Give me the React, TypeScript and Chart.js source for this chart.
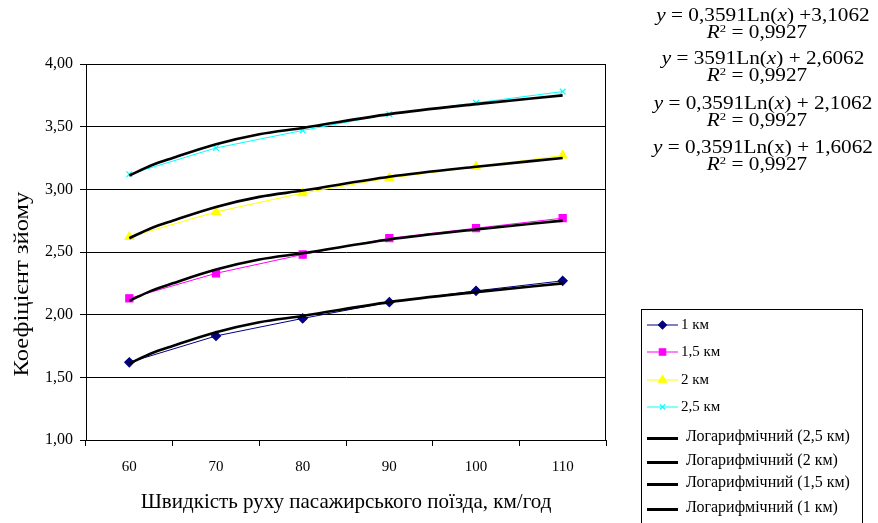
import React, { useEffect, useRef } from 'react';
import { Chart, registerables } from 'chart.js';
import { drawPoint } from 'chart.js/helpers';

Chart.register(...registerables);

// ---- data ----
const speeds = ['60', '70', '80', '90', '100', '110'];
const km1 = [1.62, 1.83, 1.97, 2.1, 2.19, 2.27];
const km15 = [2.13, 2.33, 2.48, 2.61, 2.69, 2.77];
const km2 = [2.62, 2.82, 2.97, 3.09, 3.18, 3.27];
const km25 = [3.12, 3.33, 3.47, 3.6, 3.69, 3.78];

// trend-line readings (speed, value) taken along each black curve
const trendSpeeds = [60, 62.5, 65, 70, 75, 80, 90, 100, 110];
const trend1 = [1.61, 1.69, 1.75, 1.86, 1.94, 1.99, 2.1, 2.18, 2.25];
const trend15 = [2.11, 2.19, 2.25, 2.36, 2.44, 2.49, 2.6, 2.68, 2.75];
const trend2 = [2.61, 2.69, 2.75, 2.86, 2.94, 2.99, 3.1, 3.18, 3.25];
const trend25 = [3.11, 3.19, 3.25, 3.36, 3.44, 3.49, 3.6, 3.68, 3.75];

const seriesLabels = ['1 км', '1,5 км', '2 км', '2,5 км'];
const trendLabels = ['Логарифмічний (2,5 км)', 'Логарифмічний (2 км)', 'Логарифмічний (1,5 км)', 'Логарифмічний (1 км)'];

const yMin = 1;
const yMax = 4;
const yStep = 0.5;

const xTitle = 'Швидкість руху пасажирського поїзда, км/год';
const yTitle = 'Коефіцієнт зйому';

const eqCoefs = ['0,3591', '3591', '0,3591', '0,3591'];
const eqIntercepts = ['+3,1062', '+ 2,6062', '+ 2,1062', '+ 1,6062'];
const eqR2 = ['0,9927', '0,9927', '0,9927', '0,9927'];
const eqItalicX = [true, true, true, false];

const FONT = "'Liberation Serif', 'Times New Roman', serif";

const legendPlugin = {
  id: 'customLegend',
  afterDraw(chart: any) {
    const ctx = chart.ctx;
    ctx.save();
    // y-axis title
    ctx.translate(22, 284);
    ctx.rotate(-Math.PI / 2);
    ctx.scale(1.17, 1);
    ctx.font = `21px ${FONT}`;
    ctx.fillStyle = '#000';
    ctx.textAlign = 'center';
    ctx.textBaseline = 'middle';
    ctx.fillText(yTitle, 0, 0);
    ctx.restore();

    ctx.save();
    const boxL = 641.5;
    const boxT = 309.5;
    const boxW = 221;
    ctx.strokeStyle = '#000';
    ctx.lineWidth = 1;
    ctx.strokeRect(boxL, boxT, boxW, 300);
    const rowsY = [325, 352, 380, 407, 437, 461, 483, 508];
    ctx.textBaseline = 'middle';
    ctx.textAlign = 'left';
    chart.data.datasets.forEach((ds: any, i: number) => {
      const y = rowsY[i];
      const x0 = 647;
      const x1 = 678;
      const ly = y + (ds.isTrend ? 1.5 : 0);
      ctx.beginPath();
      ctx.strokeStyle = ds.borderColor;
      ctx.lineWidth = ds.isTrend ? 3 : ds.borderWidth;
      ctx.moveTo(x0, ly);
      ctx.lineTo(x1, ly);
      ctx.stroke();
      if (!ds.isTrend) {
        ctx.fillStyle = ds.pointBackgroundColor;
        ctx.strokeStyle = ds.pointBorderColor;
        ctx.lineWidth = ds.pointBorderWidth;
        drawPoint(ctx, { pointStyle: ds.pointStyle, radius: ds.pointRadius - 0.5, rotation: 0, borderWidth: ds.pointBorderWidth }, (x0 + x1) / 2, y);
      }
      ctx.fillStyle = '#000';
      ctx.font = ds.isTrend ? `16px ${FONT}` : `15px ${FONT}`;
      ctx.fillText(ds.label, ds.isTrend ? 686 : 681, y);
    });
    ctx.restore();
  },
};

const frameHelper = {
  id: 'frameHelper',
  beforeDatasetsDraw(chart: any) {
    const { ctx, chartArea } = chart;
    ctx.save();
    ctx.strokeStyle = '#000';
    ctx.lineWidth = 1;
    ctx.strokeRect(chartArea.left + 0.5, chartArea.top + 0.5, chartArea.right - chartArea.left - 1, chartArea.bottom - chartArea.top);
    ctx.restore();
  },
};

function seriesDs(label: string, data: number[], color: string, style: string, radius: number, order: number) {
  return {
    label,
    data,
    xAxisID: 'x',
    borderColor: color,
    backgroundColor: color,
    borderWidth: 1,
    pointStyle: style,
    pointRadius: radius,
    pointBackgroundColor: color,
    pointBorderColor: color,
    pointBorderWidth: 1.2,
    tension: 0,
    order,
    isTrend: false,
  };
}

function trendDs(label: string, values: number[], order: number) {
  return {
    label,
    data: trendSpeeds.map((s, i) => ({ x: s, y: values[i] })),
    xAxisID: 'xt',
    borderColor: '#000',
    backgroundColor: '#000',
    borderWidth: 2.6,
    pointRadius: 0,
    cubicInterpolationMode: 'monotone',
    order,
    isTrend: true,
  };
}

export default function App() {
  const canvasRef = useRef<HTMLCanvasElement | null>(null);

  useEffect(() => {
    document.body.style.margin = '0';
    const canvas = canvasRef.current;
    if (!canvas) return;
    const chart = new Chart(canvas, {
      type: 'line',
      data: {
        labels: speeds,
        datasets: [
          seriesDs(seriesLabels[0], km1, '#000080', 'rectRot', 4.5, 5),
          seriesDs(seriesLabels[1], km15, '#FF00FF', 'rect', 5, 6),
          seriesDs(seriesLabels[2], km2, '#FFFF00', 'triangle', 5, 7),
          seriesDs(seriesLabels[3], km25, '#00FFFF', 'crossRot', 4, 8),
          trendDs(trendLabels[0], trend25, 1),
          trendDs(trendLabels[1], trend2, 2),
          trendDs(trendLabels[2], trend15, 3),
          trendDs(trendLabels[3], trend1, 4),
        ] as any,
      },
      options: {
        responsive: false,
        animation: false,
        devicePixelRatio: 1,
        layout: { padding: { top: 64, right: 272, left: 0, bottom: 0 } },
        plugins: {
          legend: { display: false },
          tooltip: { enabled: false },
        },
        scales: {
          x: {
            type: 'category',
            offset: true,
            grid: { offset: true, drawOnChartArea: false, drawTicks: true, tickLength: 6, color: '#000' },
            border: { color: '#000' },
            ticks: { color: '#000', font: { family: FONT, size: 15 }, padding: 12, maxRotation: 0 },
            title: { display: true, text: xTitle, color: '#000', font: { family: FONT, size: 21 }, padding: { top: 0, bottom: 8 } },
            afterFit: (s: any) => { s.height = 83; },
          },
          xt: {
            type: 'linear',
            display: false,
            min: 55,
            max: 115,
          },
          y: {
            min: yMin,
            max: yMax,
            ticks: {
              stepSize: yStep,
              color: '#000',
              font: { family: FONT, size: 16 },
              padding: 7,
              callback: (v: any) => Number(v).toFixed(2).replace('.', ','),
            },
            grid: { color: '#000', lineWidth: 1, tickLength: 6 },
            border: { color: '#000' },
            title: { display: false },
            afterFit: (s: any) => { s.width = 86; },
          },
        },
      } as any,
      plugins: [frameHelper, legendPlugin],
    });
    return () => chart.destroy();
  }, []);

  const eqLineY = [15, 58, 103, 147];
  const eqStyle: any = {
    position: 'absolute', left: 640, width: 246, lineHeight: '20px', textAlign: 'center',
    fontFamily: FONT, fontSize: 18, color: '#000', whiteSpace: 'nowrap',
    transform: 'scaleX(1.18)', transformOrigin: '50% 50%',
  };

  return (
    <div style={{ position: 'relative', width: 878, height: 523, overflow: 'hidden', background: '#fff' }}>
      <canvas ref={canvasRef} width={878} height={523} style={{ position: 'absolute', left: 0, top: 0, width: 878, height: 523 }} />
      {eqLineY.map((y, i) => (
        <React.Fragment key={i}>
          <div style={{ ...eqStyle, top: y - 10 }}>
            <i>y</i> = {eqCoefs[i]}Ln({eqItalicX[i] ? <i>x</i> : 'x'}) {eqIntercepts[i]}
          </div>
          <div style={{ ...eqStyle, top: y + 7, left: 634 }}>
            <i>R</i><sup style={{ fontSize: '0.6em', lineHeight: 0, verticalAlign: '0.6em' }}>2</sup> = {eqR2[i]}
          </div>
        </React.Fragment>
      ))}
    </div>
  );
}
